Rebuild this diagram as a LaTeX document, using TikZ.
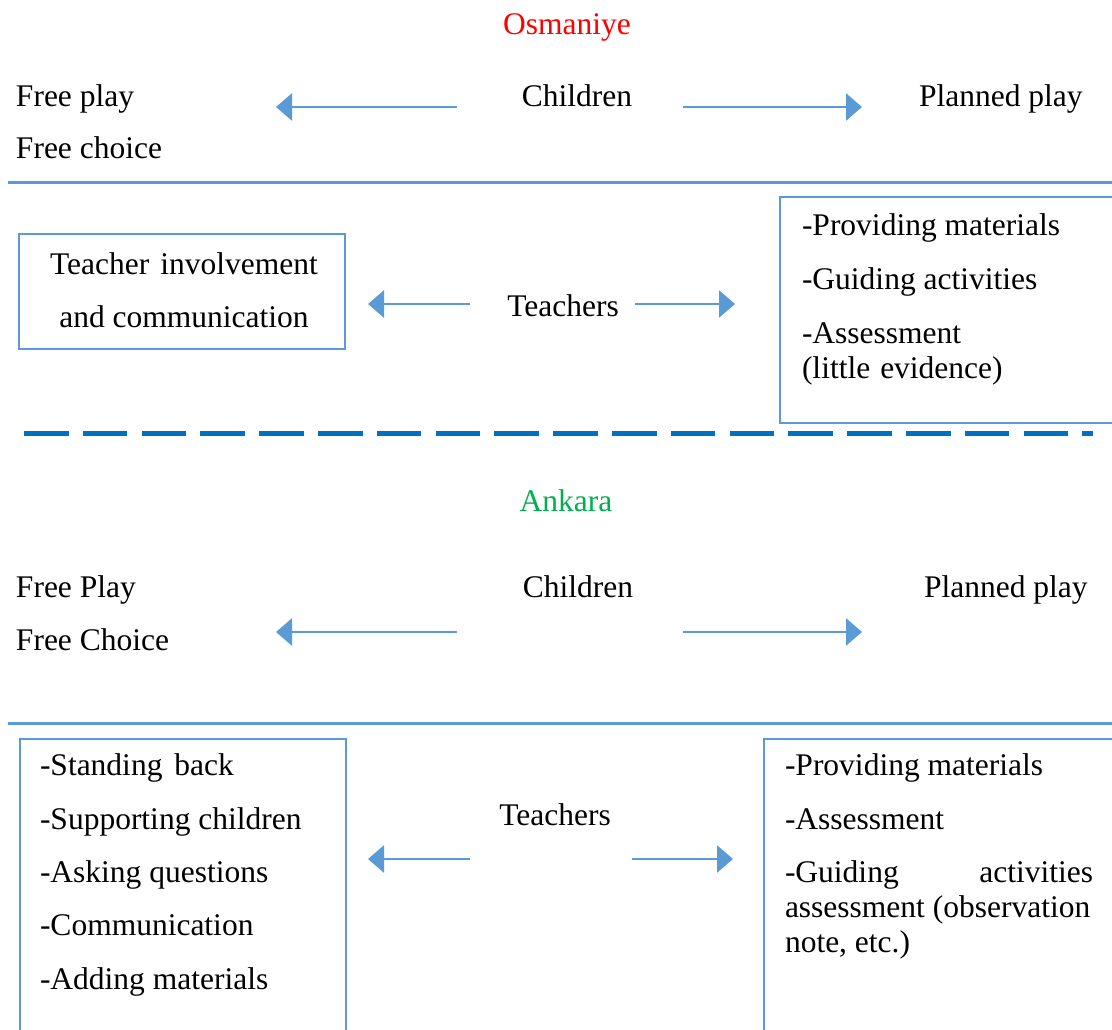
\documentclass[tikz,border=0pt]{standalone}
\usepackage{fontspec}
\setmainfont{Liberation Serif}
\usetikzlibrary{arrows.meta}
\definecolor{lblue}{HTML}{5B9BD5}
\definecolor{dblue}{HTML}{0070C0}
\definecolor{osred}{HTML}{FF0000}
\definecolor{angreen}{HTML}{00B050}
\tikzset{
  txt/.style={inner sep=0pt, outer sep=0pt, font=\fontsize{31.5}{36}\selectfont},
  lt/.style={txt, anchor=base west},
  ct/.style={txt, anchor=base},
  rule/.style={draw=lblue, line width=3pt},
  boxed/.style={draw=lblue, line width=2.5pt},
  arr/.style={draw=lblue, line width=2.8pt, -{Triangle[length=16pt,width=27pt]}},
  sep/.style={draw=dblue, line width=5pt, dash pattern=on 44.6pt off 14.2pt}
}
\begin{document}
\begin{tikzpicture}[x=1pt,y=-1pt]
\useasboundingbox (0,0) rectangle (1112,1030);
% ---------- Osmaniye ----------
\node[ct, text=osred] (osm) at (567,35) {Osmaniye};
\node[lt] (fp1) at (16,107) {Free play};
\node[lt] (fc1) at (16,159) {Free choice};
\node[ct] (ch1) at (577,107) {Children};
\node[lt] (pp1) at (919,107) {Planned play};
\coordinate (a1s) at (457,107); \coordinate (a1e) at (276,107);
\coordinate (a2s) at (683,107); \coordinate (a2e) at (862,107);
\draw[arr] (a1s) -- (a1e);
\draw[arr] (a2s) -- (a2e);
\coordinate (r1s) at (8,183); \coordinate (r1e) at (1114,183);
\draw[rule] (r1s) -- (r1e);
% left box
\node[boxed, rectangle, minimum width=326pt, minimum height=115pt, inner sep=0pt] (bx1) at (182,291.5) {};
\node[ct] (bx1a) at (184,274) {Teacher\hspace{11pt}involvement};
\node[ct] (bx1b) at (184,327) {and communication};
\node[ct] (te1) at (563,316) {Teachers};
\coordinate (a3s) at (470,304); \coordinate (a3e) at (368,304);
\coordinate (a4s) at (635,304); \coordinate (a4e) at (735,304);
\draw[arr] (a3s) -- (a3e);
\draw[arr] (a4s) -- (a4e);
% right box
\coordinate (bx2nw) at (780,197); \coordinate (bx2se) at (1118,423);
\draw[boxed] (bx2nw) rectangle (bx2se);
\node[lt] (bx2a) at (802,235) {-Providing materials};
\node[lt] (bx2b) at (802,289) {-Guiding activities};
\node[lt] (bx2c) at (802,343) {-Assessment};
\node[lt] (bx2d) at (802,378) {(little\hspace{10pt}evidence)};
% separator
\coordinate (ds) at (24,433); \coordinate (de) at (1093,433);
\draw[sep] (ds) -- (de);
% ---------- Ankara ----------
\node[ct, text=angreen] (ank) at (566,511) {Ankara};
\node[lt] (fp2) at (16,597) {Free Play};
\node[lt] (fc2) at (16,650) {Free Choice};
\node[ct] (ch2) at (578,597) {Children};
\node[lt] (pp2) at (924,597) {Planned play};
\coordinate (a5s) at (457,632); \coordinate (a5e) at (276,632);
\coordinate (a6s) at (683,632); \coordinate (a6e) at (862,632);
\draw[arr] (a5s) -- (a5e);
\draw[arr] (a6s) -- (a6e);
\coordinate (r2s) at (8,723); \coordinate (r2e) at (1114,723);
\draw[rule] (r2s) -- (r2e);
% left box
\coordinate (bx3nw) at (20,739); \coordinate (bx3se) at (346,1040);
\draw[boxed] (bx3nw) rectangle (bx3se);
\node[lt] (bx3a) at (40,775) {-Standing\hspace{4pt} back};
\node[lt] (bx3b) at (40,829) {-Supporting children};
\node[lt] (bx3c) at (40,882) {-Asking questions};
\node[lt] (bx3d) at (40,935) {-Communication};
\node[lt] (bx3e) at (40,989) {-Adding materials};
\node[ct] (te2) at (555,825) {Teachers};
\coordinate (a7s) at (470,859); \coordinate (a7e) at (368,859);
\coordinate (a8s) at (632,859); \coordinate (a8e) at (733,859);
\draw[arr] (a7s) -- (a7e);
\draw[arr] (a8s) -- (a8e);
% right box
\coordinate (bx4nw) at (764,739); \coordinate (bx4se) at (1118,1040);
\draw[boxed] (bx4nw) rectangle (bx4se);
\node[lt] (bx4a) at (785,775) {-Providing materials};
\node[lt] (bx4b) at (785,829) {-Assessment};
\node[lt] (bx4c) at (785,882) {\makebox[308pt][s]{-Guiding activities}};
\node[lt] (bx4d) at (785,917) {assessment (observation};
\node[lt] (bx4e) at (785,952) {note, etc.)};
\end{tikzpicture}
\end{document}
